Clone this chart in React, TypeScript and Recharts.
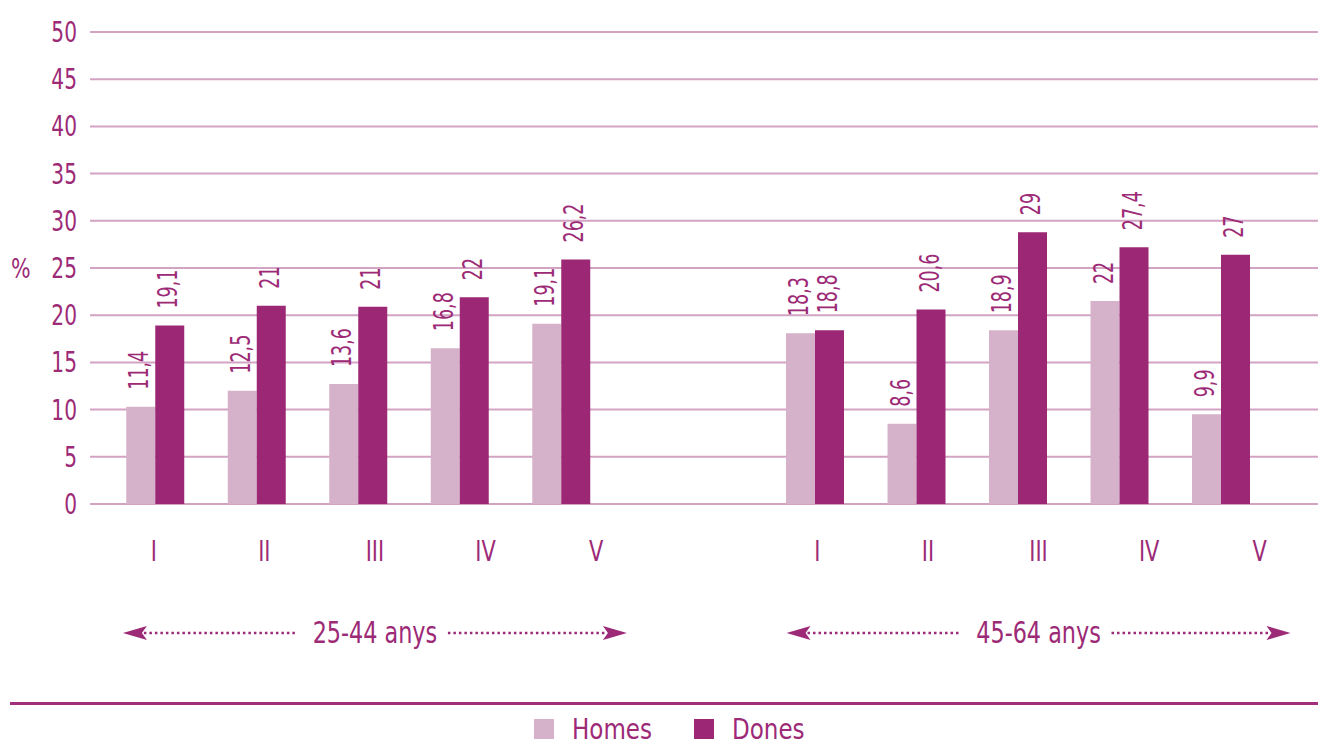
import React from 'react';
import { BarChart, Bar, XAxis, YAxis, CartesianGrid, Legend, LabelList } from 'recharts';

// ---- data ----
const categories = ['I', 'II', 'III', 'IV', 'V'];
const groups = ['25-44 anys', '45-64 anys'];
const seriesNames = ['Homes', 'Dones'];
// bar heights as drawn
const homesValues = [10.3, 12.0, 12.7, 16.5, 19.1, 18.1, 8.5, 18.4, 21.5, 9.5];
const donesValues = [18.9, 21.0, 20.9, 21.9, 25.9, 18.4, 20.6, 28.8, 27.2, 26.4];
// printed value labels
const homesLabels = ['11,4', '12,5', '13,6', '16,8', '19,1', '18,3', '8,6', '18,9', '22', '9,9'];
const donesLabels = ['19,1', '21', '21', '22', '26,2', '18,8', '20,6', '29', '27,4', '27'];
const yTicks = [0, 5, 10, 15, 20, 25, 30, 35, 40, 45, 50];

// ---- styling / layout ----
const FONT = "'DejaVu Sans Condensed','DejaVu Sans',sans-serif";
const TEXT = '#9c2a76';
const HOMES_COLOR = '#d6b2ca';
const DONES_COLOR = '#9b2775';
const GRID = '#d3a3c3';
const BAR_GROUP_GAP = 6.5;
const LABEL_GROUP_GAP = 6;
const ROMAN_BASELINE = 561;
const GROUP_LINE_Y = 633;
const GROUP_TEXT_BASELINE = 643;

const data = homesValues.map((h, k) => {
  const g = Math.floor(k / categories.length);
  const i = k % categories.length;
  return {
    pos: 1 + i + g * BAR_GROUP_GAP,
    cat: categories[i],
    group: groups[g],
    homes: h,
    dones: donesValues[k],
    homesLabel: homesLabels[k],
    donesLabel: donesLabels[k],
  };
});

const labelTicks: number[] = [];
const labelNames: Record<string, string> = {};
groups.forEach((_, g) =>
  categories.forEach((c, i) => {
    const t = 1 + i + g * LABEL_GROUP_GAP;
    labelTicks.push(t);
    labelNames[String(t)] = c;
  })
);
const groupTicks = groups.map((_, g) => (categories.length + 1) / 2 + g * LABEL_GROUP_GAP);

const ValueLabel = (props: any) => {
  const { x, y, width, value } = props;
  const cx = x + width / 2 - 1.5;
  const ty = y - 17;
  return (
    <text
      transform={`translate(${cx},${ty}) rotate(-90) scale(0.75,1)`}
      x={0}
      y={0}
      textAnchor="start"
      dominantBaseline="central"
      fontSize={26}
      fill={TEXT}
      fontFamily={FONT}
    >
      {value}
    </text>
  );
};

const YTick = (props: any) => {
  const { x, y, payload } = props;
  return (
    <text
      transform={`translate(${x},${y}) scale(0.8,1)`}
      x={0}
      y={0}
      dy="0.36em"
      textAnchor="end"
      fontSize={28}
      fill={TEXT}
      fontFamily={FONT}
    >
      {payload.value}
    </text>
  );
};

const RomanTick = (props: any) => {
  const { x, payload } = props;
  return (
    <text
      transform={`translate(${x},${ROMAN_BASELINE}) scale(0.8,1)`}
      x={0}
      y={0}
      textAnchor="middle"
      fontSize={29}
      fill={TEXT}
      fontFamily={FONT}
    >
      {labelNames[String(payload.value)]}
    </text>
  );
};

const GroupTick = (props: any) => {
  const { x, payload } = props;
  const idx = groupTicks.indexOf(payload.value);
  const lineY = GROUP_LINE_Y;
  const half = 252;
  const l = x - half;
  const r = x + half;
  return (
    <g>
      <path d={`M${l},${lineY} L${l + 24},${lineY - 7} L${l + 19},${lineY} L${l + 24},${lineY + 7} Z`} fill={TEXT} />
      <line x1={l + 21} x2={x - 77} y1={lineY} y2={lineY} stroke={TEXT} strokeWidth={2.5} strokeDasharray="2.5 3" />
      <text
        transform={`translate(${x},${GROUP_TEXT_BASELINE}) scale(0.8,1)`}
        x={0}
        y={0}
        textAnchor="middle"
        fontSize={31}
        fill={TEXT}
        fontFamily={FONT}
      >
        {groups[idx]}
      </text>
      <line x1={x + 73} x2={r - 21} y1={lineY} y2={lineY} stroke={TEXT} strokeWidth={2.5} strokeDasharray="2.5 3" />
      <path d={`M${r},${lineY} L${r - 24},${lineY - 7} L${r - 19},${lineY} L${r - 24},${lineY + 7} Z`} fill={TEXT} />
    </g>
  );
};

const PercentLabel = (props: any) => {
  const vb = props.viewBox || { x: 0, y: 32, width: 90, height: 472 };
  const x = vb.x + 11;
  const y = vb.y + vb.height / 2;
  return (
    <text
      transform={`translate(${x},${y}) scale(0.85,1)`}
      x={0}
      y={0}
      dy="0.36em"
      textAnchor="start"
      fontSize={27}
      fill={TEXT}
      fontFamily={FONT}
    >
      %
    </text>
  );
};

const legendLefts = [534, 694];

const LegendContent = (props: any) => {
  const payload = [...(props.payload || [])].sort(
    (a: any, b: any) => seriesNames.indexOf(a.value) - seriesNames.indexOf(b.value)
  );
  return (
    <div style={{ width: 1318, height: 68, position: 'relative', fontFamily: FONT }}>
      <div style={{ position: 'absolute', left: 10, right: 0, top: 28, height: 3, background: '#a1307c' }} />
      {payload.map((p: any, i: number) => (
        <div
          key={i}
          style={{ position: 'absolute', left: legendLefts[i], top: 45, display: 'flex', alignItems: 'center' }}
        >
          <div style={{ width: 20, height: 20, background: p.color }} />
          <span
            style={{
              marginLeft: 18,
              fontSize: 27.5,
              lineHeight: '20px',
              color: TEXT,
              display: 'inline-block',
              transform: 'scaleX(0.93)',
              transformOrigin: 'left center',
              whiteSpace: 'nowrap',
            }}
          >
            {p.value}
          </span>
        </div>
      ))}
    </div>
  );
};

export default function App() {
  return (
    <div style={{ position: 'absolute', left: 0, top: 0, width: 1318, height: 742, fontFamily: FONT, background: '#fff' }}>
      <BarChart width={1318} height={742} data={data} margin={{ top: 32, right: 0, bottom: 0, left: 0 }} barGap={0}>
        <CartesianGrid horizontal vertical={false} stroke={GRID} strokeWidth={2} yAxisId="y" xAxisId="bars" />
        <XAxis xAxisId="bars" type="number" dataKey="pos" domain={[0.3596, 12.458]} allowDataOverflow hide />
        <XAxis
          xAxisId="labels"
          type="number"
          dataKey="pos"
          domain={[0.424, 11.527]}
          allowDataOverflow
          ticks={labelTicks}
          interval={0}
          axisLine={false}
          tickLine={false}
          tickSize={0}
          tickMargin={0}
          height={70}
          tick={<RomanTick />}
        />
        <XAxis
          xAxisId="groups"
          type="number"
          dataKey="pos"
          domain={[0.424, 11.527]}
          allowDataOverflow
          ticks={groupTicks}
          interval={0}
          axisLine={false}
          tickLine={false}
          tickSize={0}
          tickMargin={0}
          height={100}
          tick={<GroupTick />}
        />
        <YAxis
          yAxisId="y"
          domain={[0, 50]}
          ticks={yTicks}
          interval={0}
          width={90}
          axisLine={false}
          tickLine={false}
          tickMargin={7}
          tick={<YTick />}
          label={{ position: 'insideLeft', content: <PercentLabel /> }}
        />
        <Legend verticalAlign="bottom" content={<LegendContent />} wrapperStyle={{ left: 0, width: 1318, height: 68 }} />
        <Bar xAxisId="bars" yAxisId="y" dataKey="homes" name={seriesNames[0]} fill={HOMES_COLOR} barSize={29} isAnimationActive={false}>
          <LabelList dataKey="homesLabel" content={<ValueLabel />} />
        </Bar>
        <Bar xAxisId="bars" yAxisId="y" dataKey="dones" name={seriesNames[1]} fill={DONES_COLOR} barSize={29} isAnimationActive={false}>
          <LabelList dataKey="donesLabel" content={<ValueLabel />} />
        </Bar>
      </BarChart>
    </div>
  );
}
